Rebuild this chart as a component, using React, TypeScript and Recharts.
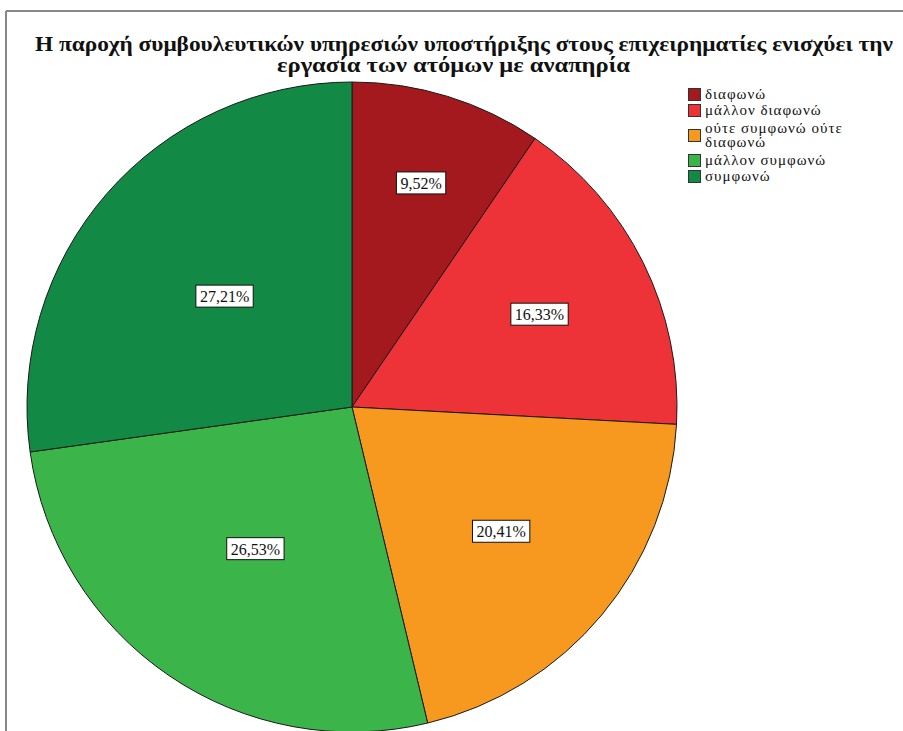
import { PieChart, Pie, Cell, Legend } from "recharts";

const categories = [
  "διαφωνώ",
  "μάλλον διαφωνώ",
  "ούτε συμφωνώ ούτε διαφωνώ",
  "μάλλον συμφωνώ",
  "συμφωνώ",
];
const percents = [9.52, 16.33, 20.41, 26.53, 27.21];
const sliceColors = ["#a3191d", "#ee3338", "#f7991e", "#3bb54a", "#128a46"];

const titleLines = [
  "Η παροχή συμβουλευτικών υπηρεσιών υποστήριξης στους επιχειρηματίες ενισχύει την",
  "εργασία  των ατόμων με αναπηρία",
];

const data = categories.map((name, i) => ({ name, value: percents[i] }));

const SERIF = '"Liberation Serif", "DejaVu Serif", serif';
const RAD = Math.PI / 180;

function fmt(v: number) {
  return v.toFixed(2).replace(".", ",") + "%";
}

function SliceLabel(props: any) {
  const { cx, cy, midAngle, outerRadius, value } = props;
  // small slices get their label pushed further out, like the SPSS output
  const r = outerRadius * (0.83 - 0.0114 * value);
  const x = cx + r * Math.cos(-midAngle * RAD);
  const y = cy + r * Math.sin(-midAngle * RAD);
  const text = fmt(value);
  // rough glyph widths for the box
  let em = 0;
  for (const ch of text) em += ch === "," ? 0.25 : ch === "%" ? 0.833 : 0.5;
  const w = em * 16 + 8;
  const h = 22;
  return (
    <g>
      <rect x={x - w / 2} y={y - h / 2} width={w} height={h} fill="#fff" stroke="#111" strokeWidth={1} />
      <text x={x} y={y + 6} textAnchor="middle" fontFamily={SERIF} fontSize={16} fill="#111">
        {text}
      </text>
    </g>
  );
}

function LegendBox(props: any) {
  const payload = [...(props.payload || [])].sort(
    (a: any, b: any) => categories.indexOf(a.value) - categories.indexOf(b.value)
  );
  return (
    <div style={{ fontFamily: SERIF, fontSize: 15, letterSpacing: 1, color: "#111", lineHeight: "14px" }}>
      {payload.map((p: any, i: number) => (
        <div key={i} style={{ display: "flex", alignItems: "center", marginBottom: 2 }}>
          <span
            style={{
              display: "inline-block",
              width: 11,
              height: 11,
              background: p.color,
              border: "1px solid #333",
              marginRight: 4,
              flexShrink: 0,
            }}
          />
          <span style={{ width: 150, padding: p.value.length > 20 ? "2px 0" : 0 }}>{p.value}</span>
        </div>
      ))}
    </div>
  );
}

export default function App() {
  return (
    <div style={{ position: "absolute", left: 0, top: 0, width: 903, height: 731, background: "#fff", overflow: "hidden" }}>
      <svg width={903} height={731} style={{ position: "absolute", left: 0, top: 0 }}>
        <line x1={6} y1={11} x2={903} y2={11} stroke="#888" strokeWidth={2} />
        <line x1={6} y1={11} x2={6} y2={731} stroke="#888" strokeWidth={2} />
        <text x={35} y={51} textLength={858} lengthAdjust="spacingAndGlyphs" fontFamily={SERIF} fontWeight="bold" fontSize={20} fill="#111">
          {titleLines[0]}
        </text>
        <text x={277} y={72} textLength={353} lengthAdjust="spacingAndGlyphs" fontFamily={SERIF} fontWeight="bold" fontSize={20} fill="#111">
          {titleLines[1]}
        </text>
      </svg>
      <div style={{ position: "absolute", left: 0, top: 0 }}>
        <PieChart width={903} height={731} margin={{ top: 0, right: 0, bottom: 0, left: 0 }}>
          <Pie
            data={data}
            dataKey="value"
            nameKey="name"
            cx={352}
            cy={407}
            outerRadius={325}
            startAngle={90}
            endAngle={-270}
            stroke="#1a1a1a"
            strokeWidth={1}
            label={SliceLabel}
            labelLine={false}
            isAnimationActive={false}
          >
            {data.map((d, i) => (
              <Cell key={d.name} fill={sliceColors[i]} />
            ))}
          </Pie>
          <Legend
            layout="vertical"
            verticalAlign="top"
            align="right"
            content={LegendBox}
            wrapperStyle={{ left: 688, top: 87, width: 180 }}
          />
        </PieChart>
      </div>
    </div>
  );
}
